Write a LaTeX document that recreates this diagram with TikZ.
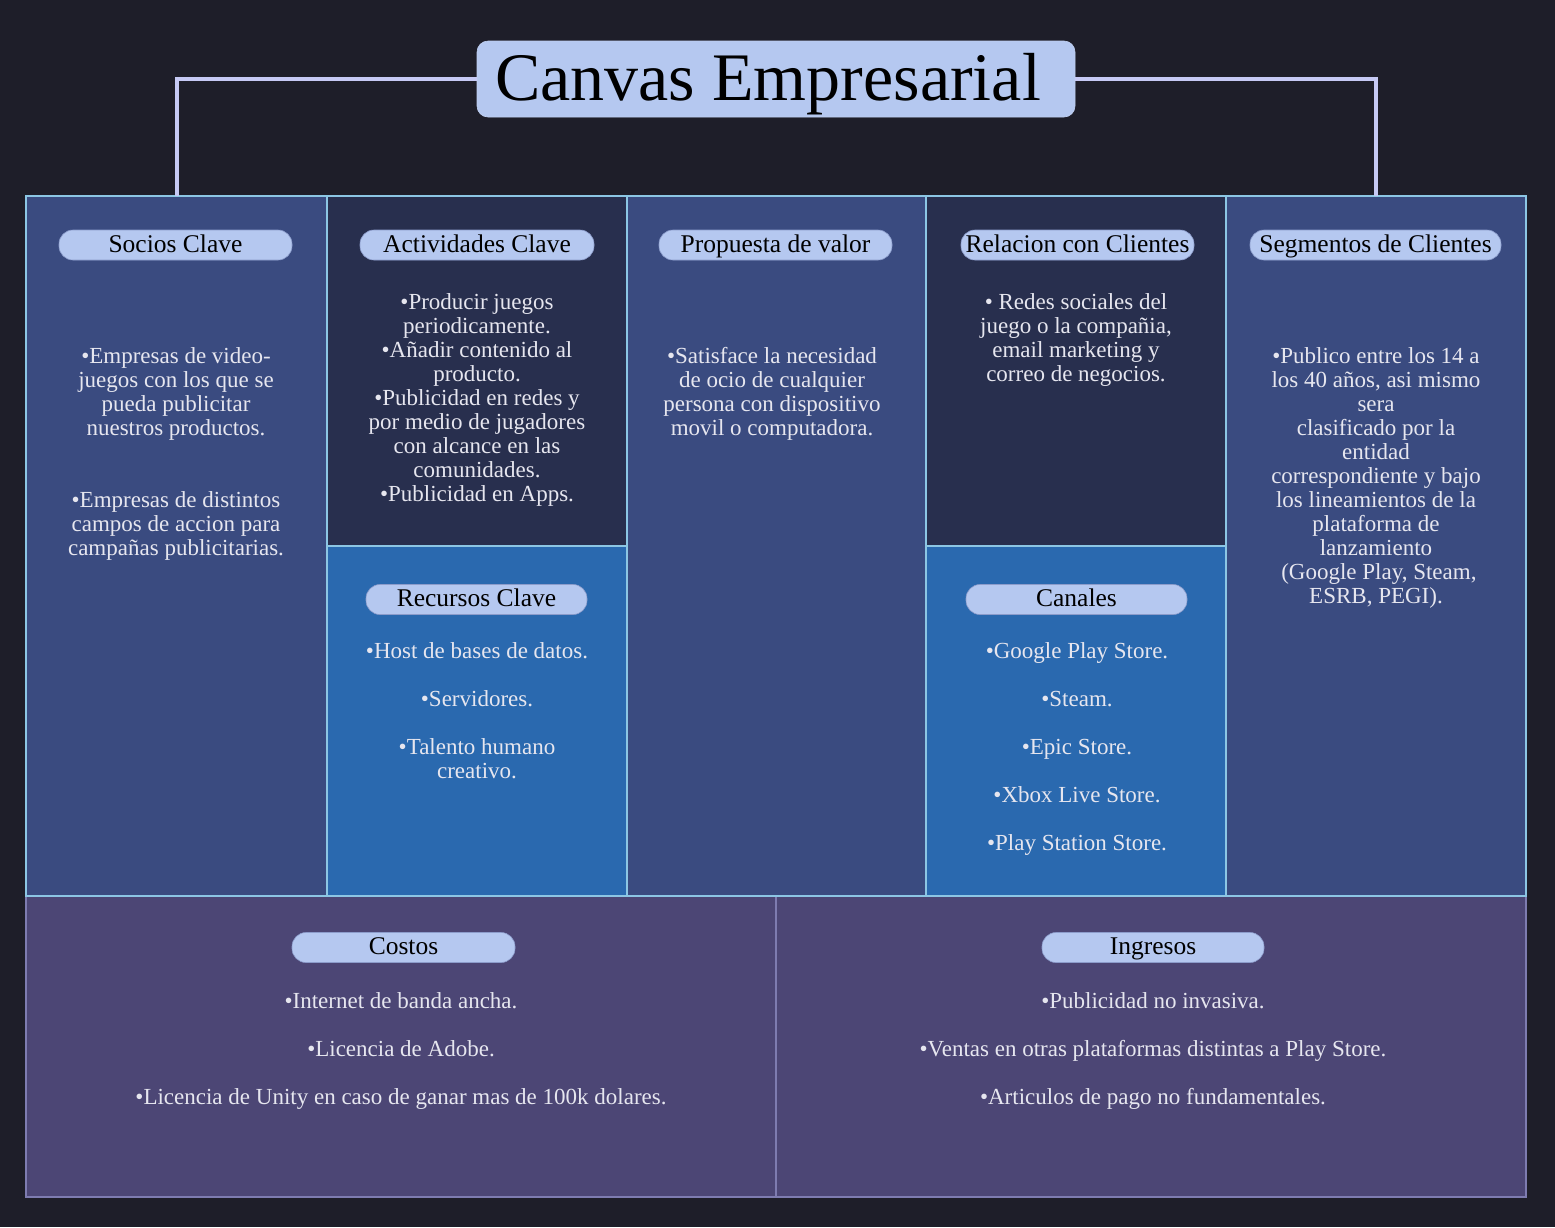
\documentclass[tikz,border=0pt]{standalone}
\usepackage{fontspec}
\setmainfont{Liberation Serif}
\definecolor{bgc}{HTML}{1E1E29}
\definecolor{pillfill}{HTML}{B5C8F0}
\definecolor{pillline}{HTML}{8C9CCB}
\definecolor{connline}{HTML}{C6C9F4}
\definecolor{colmid}{HTML}{3A4B80}
\definecolor{coldark}{HTML}{282F4E}
\definecolor{colbright}{HTML}{2A69AF}
\definecolor{bottomc}{HTML}{4C4675}
\definecolor{cellline}{HTML}{8CC6E4}
\definecolor{bottomline}{HTML}{7E7CB0}
\definecolor{bodytext}{HTML}{E6E6EF}
\begin{document}
\begin{tikzpicture}[x=1pt,y=-1pt,
  cell/.style={rectangle, anchor=north west, inner sep=0pt, outer sep=0pt,
    draw=cellline, line width=1.4pt},
  lowcell/.style={cell, draw=bottomline, fill=bottomc,
    minimum width=750pt, minimum height=301pt},
  pill/.style={rectangle, rounded corners=14pt, fill=pillfill, draw=pillline,
    line width=0.6pt, minimum height=30pt, inner sep=0pt, text=black,
    font=\fontsize{25.5}{28}\selectfont, text height=17pt, text depth=2.5pt},
  body/.style={anchor=north, align=center, inner sep=0pt, text=bodytext,
    font=\fontsize{23}{24}\selectfont},
  conn/.style={draw=connline, line width=4pt},
  titlebox/.style={rectangle, rounded corners=11pt, fill=pillfill,
    draw=pillfill!85!white, line width=0.6pt,
    minimum width=598pt, minimum height=76pt, inner sep=0pt,
    text=black, font=\fontsize{68}{72}\selectfont,
    text height=46pt, text depth=4pt},
]
% background
\fill[bgc] (0,0) rectangle (1555,1227);

% bottom row: costs and revenue
\node[lowcell] (costos)   at (26,896)  {};
\node[lowcell] (ingresos) at (776,896) {};

% upper columns
\node[cell, fill=colmid,    minimum width=301pt, minimum height=700pt] (socios)      at (26,196)   {};
\node[cell, fill=coldark,   minimum width=300pt, minimum height=350pt] (actividades) at (327,196)  {};
\node[cell, fill=colbright, minimum width=300pt, minimum height=350pt] (recursos)    at (327,546)  {};
\node[cell, fill=colmid,    minimum width=299pt, minimum height=700pt] (propuesta)   at (627,196)  {};
\node[cell, fill=coldark,   minimum width=300pt, minimum height=350pt] (relacion)    at (926,196)  {};
\node[cell, fill=colbright, minimum width=300pt, minimum height=350pt] (canales)     at (926,546)  {};
\node[cell, fill=colmid,    minimum width=300pt, minimum height=700pt] (segmentos)   at (1226,196) {};

% title and its connectors
\node[titlebox] (title) at (776,79) {Canvas Empresarial\kern16pt};
\draw[conn] (title.west) -| (socios.north);
\draw[conn] (title.east) -| (segmentos.north);

% section headers
\node[pill, minimum width=233pt] (hSocios)      at (175.5,245)  {Socios Clave};
\node[pill, minimum width=234pt] (hActividades) at (477,245)    {Actividades Clave};
\node[pill, minimum width=233pt] (hPropuesta)   at (775.5,245)  {Propuesta de valor};
\node[pill, minimum width=233pt] (hRelacion)    at (1077.5,245) {Relacion con Clientes};
\node[pill, minimum width=251pt] (hSegmentos)   at (1375.5,245) {Segmentos de Clientes};
\node[pill, minimum width=221pt] (hRecursos)    at (476.5,599.5)  {Recursos Clave};
\node[pill, minimum width=221pt] (hCanales)     at (1076.5,599.5) {Canales};
\node[pill, minimum width=223pt] (hCostos)      at (403.5,947.5)  {Costos};
\node[pill, minimum width=222pt] (hIngresos)    at (1153,947.5)   {Ingresos};

% section contents
\node[body] (tSocios) at (176,346) {\strut•Empresas de video-\\juegos con los que se\\pueda publicitar\\nuestros productos.\\[48pt]•Empresas de distintos\\campos de accion para\\campañas publicitarias.};
\node[body] (tActividades) at (477,292) {\strut•Producir juegos\\periodicamente.\\•Añadir contenido al\\producto.\\•Publicidad en redes y\\por medio de jugadores\\con alcance en las\\comunidades.\\•Publicidad en Apps.};
\node[body] (tPropuesta) at (772,346) {\strut•Satisface la necesidad\\de ocio de cualquier\\persona con dispositivo\\movil o computadora.};
\node[body] (tRelacion) at (1076,292) {\strut• Redes sociales del\\juego o la compañia,\\email marketing y\\correo de negocios.};
\node[body] (tSegmentos) at (1376,346) {\strut•Publico entre los 14 a\\los 40 años, asi mismo\\sera\\clasificado por la\\entidad\\correspondiente y bajo\\los lineamientos de la\\plataforma de\\lanzamiento\\\ (Google Play, Steam,\\ESRB, PEGI).};
\node[body] (tRecursos) at (477,641) {\strut•Host de bases de datos.\\[24pt]•Servidores.\\[24pt]•Talento humano\\creativo.};
\node[body] (tCanales) at (1077,641) {\strut•Google Play Store.\\[24pt]•Steam.\\[24pt]•Epic Store.\\[24pt]•Xbox Live Store.\\[24pt]•Play Station Store.};
\node[body] (tCostos) at (401,991) {\strut•Internet de banda ancha.\\[24pt]•Licencia de Adobe.\\[24pt]•Licencia de Unity en caso de ganar mas de 100k dolares.};
\node[body] (tIngresos) at (1153,991) {\strut•Publicidad no invasiva.\\[24pt]•Ventas en otras plataformas distintas a Play Store.\\[24pt]•Articulos de pago no fundamentales.};
\end{tikzpicture}
\end{document}
